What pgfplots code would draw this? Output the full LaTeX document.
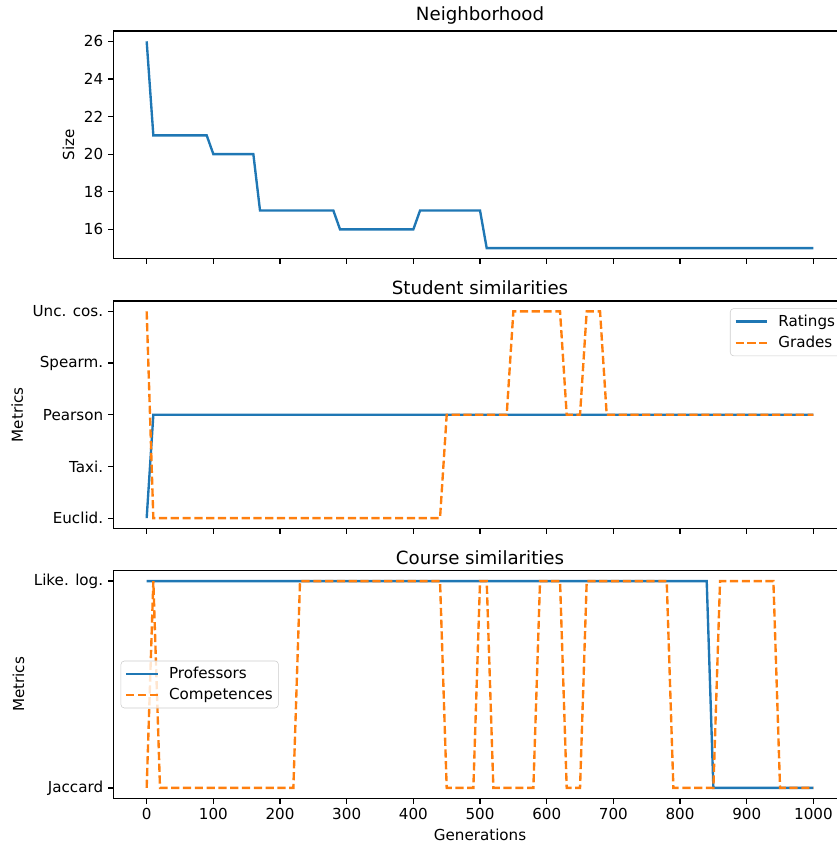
\documentclass[border=0pt]{standalone}
\usepackage{fontspec}
\setmainfont{DejaVu Sans}
\usepackage{pgfplots}
\pgfplotsset{compat=1.18}
\definecolor{cblue}{HTML}{1F77B4}
\definecolor{corange}{HTML}{FF7F0E}

\pgfplotsset{
  panel/.style={
    scale only axis,
    width=528pt, height=163.8pt,
    xmin=-50, xmax=1050,
    xtick={0,100,...,1000},
    tick pos=left,
    tick align=outside,
    major tick length=3.8pt,
    every tick/.style={black, line width=0.85pt},
    axis line style={line width=0.85pt},
    /pgf/number format/assume math mode=true,
    /pgf/number format/1000 sep={},
    tick label style={font=\fontsize{10.9}{13}\selectfont},
    label style={font=\fontsize{10.9}{13}\selectfont},
    title style={font=\fontsize{13.1}{15}\selectfont, yshift=-5pt},
    legend style={font=\fontsize{10.9}{13}\selectfont, draw=black!20, rounded corners=2.5pt,
      fill=white, fill opacity=0.8, text opacity=1,
      inner xsep=3pt, inner ysep=3.5pt, row sep=3.5pt, column sep=6pt,
      nodes={inner sep=1pt}},
    legend cell align=left,
    legend image code/.code={\draw[#1, line width=1.6pt] (0pt,0pt) -- (23pt,0pt);},
  },
  ratings/.style={cblue, line width=1.7pt},
  grades/.style={corange, line width=1.7pt, dash pattern=on 5.9pt off 2.6pt},
}

\begin{document}
\begin{tikzpicture}
% Neighborhood size
\begin{axis}[panel, at={(0,0)}, anchor=north west,
  title={Neighborhood}, ylabel={Size},
  ymin=14.45, ymax=26.55, ytick={16,18,...,26},
  xticklabels={}]
\addplot[ratings] coordinates {
  (0,26) (10,21) (90,21) (100,20) (160,20) (170,17) (280,17) (290,16)
  (400,16) (410,17) (500,17) (510,15) (1000,15)
};
\end{axis}

% Student similarities
\begin{axis}[panel, at={(0,-194.4pt)}, anchor=north west,
  title={Student similarities}, ylabel={Metrics},
  ymin=-0.2, ymax=4.2, ytick={0,1,2,3,4},
  yticklabels={Euclid., Taxi., Pearson, Spearm., Unc. cos.},
  xticklabels={},
  legend style={at={(0.992,0.968)}, anchor=north east}]
\addplot[ratings] coordinates {
  (0,0) (10,2) (1000,2)
};
\addlegendentry{Ratings}
\addplot[grades] coordinates {
  (0,4) (10,0) (440,0) (450,2) (540,2) (550,4) (620,4) (630,2) (650,2)
  (660,4) (680,4) (690,2) (1000,2)
};
\addlegendentry{Grades}
\end{axis}

% Course similarities
\begin{axis}[panel, at={(0,-388.6pt)}, anchor=north west,
  title={Course similarities}, ylabel={Metrics}, xlabel={Generations},
  ymin=-0.05, ymax=1.05, ytick={0,1},
  yticklabels={Jaccard, Like. log.},
  legend style={at={(0.01,0.5)}, anchor=west}]
\addplot[ratings] coordinates {
  (0,1) (840,1) (850,0) (1000,0)
};
\addlegendentry{Professors}
\addplot[grades] coordinates {
  (0,0) (10,1) (20,0) (220,0) (230,1) (440,1) (450,0) (490,0) (500,1)
  (510,1) (520,0) (580,0) (590,1) (620,1) (630,0) (650,0) (660,1) (780,1)
  (790,0) (850,0) (860,1) (940,1) (950,0) (1000,0)
};
\addlegendentry{Competences}
\end{axis}

\pgfresetboundingbox
\useasboundingbox (-81.6pt,22.3pt) rectangle (520.3pt,-587.5pt);
\end{tikzpicture}
\end{document}
